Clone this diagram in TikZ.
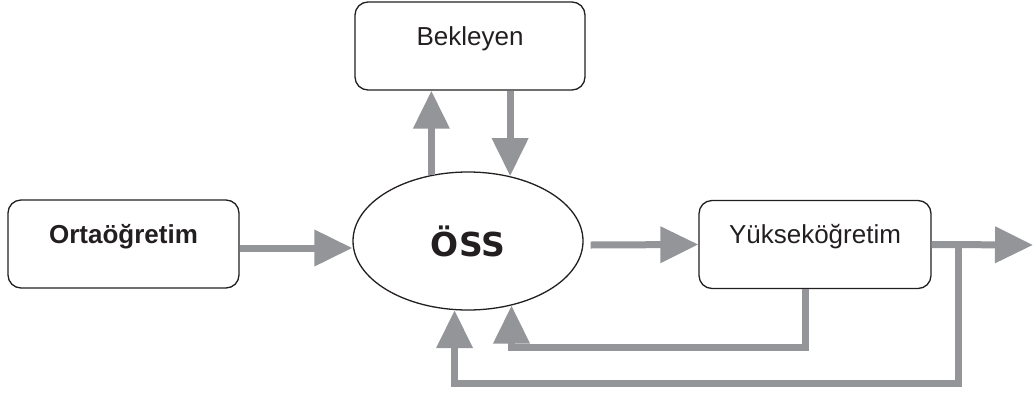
\documentclass[tikz,border=0pt]{standalone}
\usepackage{fontspec}
\setmainfont{Liberation Sans}
\newfontfamily\ossfont{DejaVu Sans}
\usetikzlibrary{arrows.meta}
\usetikzlibrary{calc}
\usetikzlibrary{positioning}
\usetikzlibrary{shapes.geometric}
\definecolor{flowgray}{RGB}{147,149,152}
\definecolor{inkblack}{RGB}{35,31,32}

\begin{document}
\begin{tikzpicture}[x=1pt, y=-1pt,
        box/.style={draw=inkblack, line width=1.3pt, rounded corners=13pt, minimum width=231pt,
          inner xsep=0pt, inner ysep=0pt, text height=43pt, text depth=45pt,
          font=\fontsize{26}{30}\selectfont, text=inkblack},
        flow/.style={draw=flowgray, line width=7pt, -{Triangle[width=35pt,length=38pt]}}]
        \useasboundingbox (0,0) rectangle (1035,394);
        \node[ellipse, draw=inkblack, line width=1.3pt, minimum width=230pt, minimum height=138pt,
          inner sep=0pt, text=inkblack, font=\ossfont\bfseries\fontsize{33}{36}\selectfont] (oss) at (468,241) {ÖSS};
        \node[box, font=\bfseries\fontsize{26}{30}\selectfont] (orta) at (123.5,244) {Ortaöğretim};
        \node[box, minimum width=230pt] (bek) at (470,46) {Bekleyen};
        \node[box, minimum width=232pt] (yuk) at (815,244.5) {Yükseköğretim};
        \coordinate (out) at (1033,245);
        \coordinate (split) at (958,245);

        \draw[flow] ($(orta.east)+(0,4)$) -- ($(oss.west)+(0,7)$);
        \draw[flow] (oss.119) -- (oss.119 |- bek.south);
        \draw[flow] (bek.south -| oss.57) -- (oss.57);
        \draw[flow] ($(oss.east)+(7,4)$) -- (yuk.west);
        \draw[flow] (yuk.east) -- (out);
        % back to the exam
        \draw[flow] ([xshift=-10pt]yuk.south) -- ++(0,58) -| (oss.304);
        \draw[flow] (split) -- ++(0,138) -| (oss.259);
\end{tikzpicture}
\end{document}
